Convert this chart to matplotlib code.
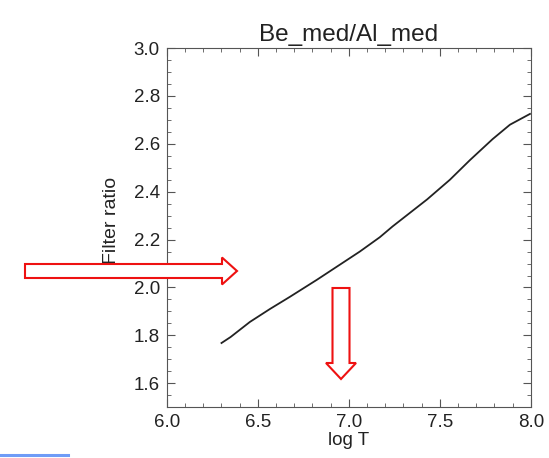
import matplotlib
matplotlib.use("Agg")
import matplotlib.pyplot as plt
from matplotlib.patches import FancyArrow
from matplotlib.ticker import MultipleLocator

plt.rcParams['font.family'] = ['Liberation Sans', 'DejaVu Sans']

# curve
log_t = [6.30, 6.35, 6.456, 6.566, 6.676, 6.824, 6.95, 7.06, 7.17, 7.24,
         7.43, 7.555, 7.665, 7.79, 7.885, 7.995]
ratio = [1.768, 1.793, 1.856, 1.910, 1.961, 2.032, 2.095, 2.150, 2.210, 2.255,
         2.368, 2.450, 2.532, 2.620, 2.680, 2.725]

x_ticks = [6.0, 6.5, 7.0, 7.5, 8.0]
y_ticks = [1.6, 1.8, 2.0, 2.2, 2.4, 2.6, 2.8, 3.0]

fig = plt.figure(figsize=(5.49, 4.58), dpi=100)
ax = fig.add_axes([0.304, 0.111, 0.663, 0.784])

ax.plot(log_t, ratio, color='#222222', lw=1.3)

ax.set_xlim(6.0, 8.0)
ax.set_ylim(1.5, 3.0)
ax.set_xticks(x_ticks)
ax.set_yticks(y_ticks)
ax.set_xticklabels(['%.1f' % v for v in x_ticks])
ax.set_yticklabels(['%.1f' % v for v in y_ticks])
ax.xaxis.set_minor_locator(MultipleLocator(0.1))
ax.yaxis.set_minor_locator(MultipleLocator(0.05))
ax.tick_params(which='both', direction='in', top=True, right=True,
               color='#555555', labelsize=13.5, labelcolor='#222222')
ax.tick_params(which='major', length=6, width=0.8, pad=5)
ax.tick_params(which='minor', length=3, width=0.6)
for s in ax.spines.values():
    s.set_color('#555555')
    s.set_linewidth(0.8)

ax.set_title('Be_med/Al_med', fontsize=17.5, color='#222222', pad=5)
ax.set_xlabel('log T', fontsize=13.5, color='#222222', labelpad=1)
ax.set_ylabel('Filter ratio', fontsize=14, color='#222222')
ax.yaxis.set_label_coords(-0.13, 0.52)

# red outline arrows, in pixel units (inches/100)
tr = fig.dpi_scale_trans
fig.patches.append(FancyArrow(0.25, 1.87, 2.12 - 0.15, 0, width=0.14,
                              head_width=0.27, head_length=0.15,
                              length_includes_head=False, fc='white',
                              ec='#ee1111', lw=1.5, transform=tr, figure=fig))
fig.patches.append(FancyArrow(3.41, 1.70, 0, -0.91 + 0.16, width=0.17,
                              head_width=0.30, head_length=0.16,
                              length_includes_head=False, fc='white',
                              ec='#ee1111', lw=1.5, transform=tr, figure=fig))

# blue underline at bottom left
fig.add_artist(plt.Line2D([0, 0.68], [0.03, 0.03], color='#6f9cf7', lw=2.2,
                          transform=tr))

fig.savefig('out.png', dpi=100)
